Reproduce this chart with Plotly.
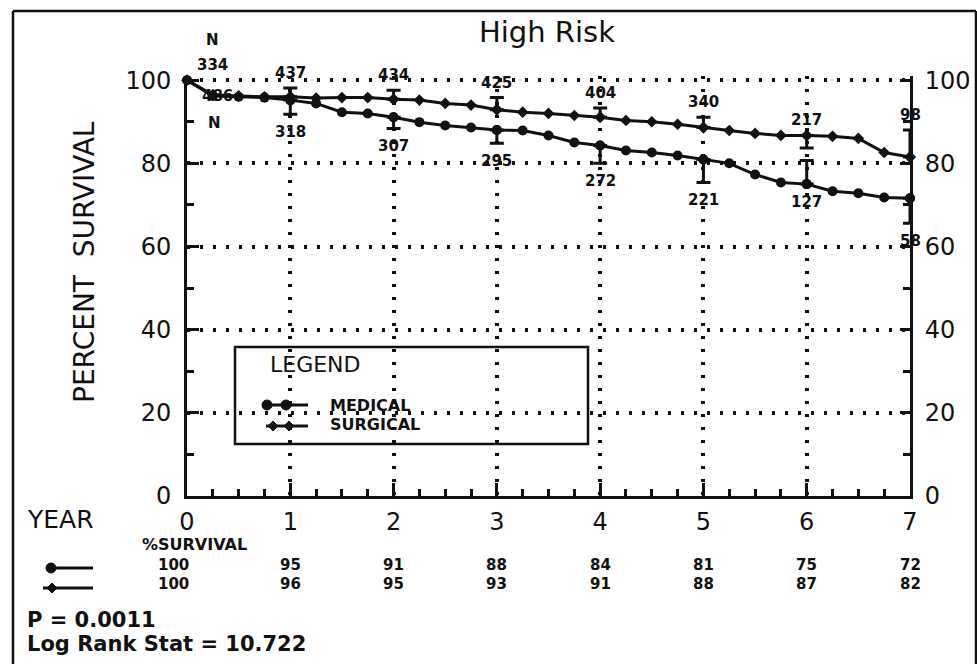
import plotly.graph_objects as go

# ---------------- data ----------------
years_q = [0, 0.25, 0.5, 0.75, 1, 1.25, 1.5, 1.75, 2, 2.25, 2.5, 2.75, 3, 3.25, 3.5,
           3.75, 4, 4.25, 4.5, 4.75, 5, 5.25, 5.5, 5.75, 6, 6.25, 6.5, 6.75, 7]
medical_pct = [100, 96.2, 96.0, 95.8, 95.2, 94.4, 92.3, 92.0, 91.1, 89.9, 89.1, 88.6, 88.0,
               87.9, 86.7, 85.0, 84.3, 83.1, 82.6, 81.9, 80.9, 80.0, 77.3, 75.4, 75.0,
               73.3, 72.8, 71.8, 71.6]
surgical_pct = [100, 96.5, 96.2, 96.0, 96.0, 95.7, 95.8, 95.8, 95.4, 95.2, 94.4, 94.0, 92.9,
                92.3, 92.0, 91.5, 91.1, 90.3, 90.0, 89.4, 88.6, 87.9, 87.2, 86.7, 86.7,
                86.5, 86.0, 82.6, 81.5]

years = [0, 1, 2, 3, 4, 5, 6, 7]
year_labels = ["0", "1", "2", "3", "4", "5", "6", "7"]
medical_year_pct = [100, 95, 91, 88, 84, 81, 75, 72]
surgical_year_pct = [100, 96, 95, 93, 91, 88, 87, 82]
medical_n = ["486", "318", "307", "295", "272", "221", "127", "58"]
surgical_n = ["334", "437", "434", "425", "404", "340", "217", "98"]

ci_years = [1, 2, 3, 4, 5, 6, 7]
surgical_ci_up = [2.1, 2.2, 2.9, 2.2, 2.5, 0, 6.5]
surgical_ci_down = [0, 0, 0, 0, 0, 3.0, 0]
medical_ci_up = [0, 0, 0, 0, 0, 5.7, 0]
medical_ci_down = [3.4, 2.7, 3.2, 4.3, 5.5, 0, 6.0]

p_value = "0.0011"
log_rank = "10.722"

# ---------------- layout helpers ----------------
W, H = 977, 664
L, R, T, B = 187, 910, 76, 496


def px(x):
    return (x - L) / (R - L)


def py(y):
    return (B - y) / (B - T)


FONT = "DejaVu Sans"
BLACK = "#111111"

fig = go.Figure()

# curves
fig.add_trace(go.Scatter(
    x=years_q, y=medical_pct, mode="lines+markers", name="MEDICAL",
    line=dict(color=BLACK, width=3),
    marker=dict(symbol="circle", size=10, color=BLACK),
    cliponaxis=False, showlegend=False))
fig.add_trace(go.Scatter(
    x=years_q, y=surgical_pct, mode="lines+markers", name="SURGICAL",
    line=dict(color=BLACK, width=3),
    marker=dict(symbol="diamond", size=9, color=BLACK),
    cliponaxis=False, showlegend=False))

# confidence bars at yearly points
med_at_year = [medical_pct[years_q.index(y)] for y in ci_years]
surg_at_year = [surgical_pct[years_q.index(y)] for y in ci_years]
fig.add_trace(go.Scatter(
    x=ci_years, y=surg_at_year, mode="markers",
    marker=dict(symbol="diamond", size=9, color=BLACK),
    error_y=dict(type="data", symmetric=False, array=surgical_ci_up,
                 arrayminus=surgical_ci_down, color=BLACK, thickness=3, width=7),
    cliponaxis=False, showlegend=False))
fig.add_trace(go.Scatter(
    x=ci_years, y=med_at_year, mode="markers",
    marker=dict(symbol="circle", size=10, color=BLACK),
    error_y=dict(type="data", symmetric=False, array=medical_ci_up,
                 arrayminus=medical_ci_down, color=BLACK, thickness=3, width=7),
    cliponaxis=False, showlegend=False, yaxis="y2"))

ann = []
NF = dict(family=FONT, size=15, color=BLACK)

# N-at-risk labels
for i, y in enumerate(years):
    sv = surgical_pct[years_q.index(y)]
    mv = medical_pct[years_q.index(y)]
    if y in ci_years:
        k = ci_years.index(y)
        s_top = sv + surgical_ci_up[k]
        m_bot = mv - medical_ci_down[k]
    else:
        s_top, m_bot = sv, mv
    xs = 25 if y == 0 else 0
    ann.append(dict(x=y, y=s_top, xref="x", yref="y", text="<b>%s</b>" % surgical_n[i],
                    showarrow=False, xshift=xs, yshift=15, xanchor="center", yanchor="middle", font=NF))
    ann.append(dict(x=y, y=m_bot, xref="x", yref="y", text="<b>%s</b>" % medical_n[i],
                    showarrow=False, xshift=xs + (5 if y == 0 else 0), yshift=-18 if y else -16,
                    xanchor="center", yanchor="middle", font=NF))
# N headers
ann.append(dict(x=0, y=100, xref="x", yref="y", text="<b>N</b>", showarrow=False, xshift=25, yshift=40,
                xanchor="center", yanchor="middle", font=NF))
ann.append(dict(x=0, y=100, xref="x", yref="y", text="<b>N</b>", showarrow=False, xshift=27, yshift=-43,
                xanchor="center", yanchor="middle", font=NF))


def pann(x, y, text, size, xanchor="center", bold=False, angle=0):
    ann.append(dict(x=px(x), y=py(y), xref="paper", yref="paper",
                    text=("<b>%s</b>" % text) if bold else text, textangle=angle,
                    xanchor=xanchor, yanchor="middle", showarrow=False,
                    font=dict(family=FONT, size=size, color=BLACK)))


# title & axis titles
pann(547, 32, "High Risk", 29)
pann(84, 262, "PERCENT  SURVIVAL", 28, angle=-90)
pann(25, 519, "YEAR", 25, xanchor="left")
pann(194, 544, "%SURVIVAL", 16, bold=True)

# survival table
for i, y in enumerate(years):
    xs = -14 if y == 0 else 0
    ann.append(dict(x=y, y=py(565), xref="x", yref="paper", text="<b>%d</b>" % medical_year_pct[i],
                    showarrow=False, xshift=xs, xanchor="center", yanchor="middle",
                    font=dict(family=FONT, size=15, color=BLACK)))
    ann.append(dict(x=y, y=py(584), xref="x", yref="paper", text="<b>%d</b>" % surgical_year_pct[i],
                    showarrow=False, xshift=xs, xanchor="center", yanchor="middle",
                    font=dict(family=FONT, size=15, color=BLACK)))

pann(25, 620, "P = %s" % p_value, 21, xanchor="left", bold=True)
pann(25, 644, "Log Rank Stat = %s" % log_rank, 21, xanchor="left", bold=True)

# legend box texts
pann(268, 364, "LEGEND", 22, xanchor="left")
pann(328, 405, "MEDICAL", 16, xanchor="left", bold=True)
pann(328, 424, "SURGICAL", 16, xanchor="left", bold=True)

shapes = []
line_style = dict(color=BLACK, width=2.5)
# outer frame
shapes.append(dict(type="line", xref="paper", yref="paper", x0=px(13), x1=px(13), y0=py(11), y1=py(666), line=line_style))
shapes.append(dict(type="line", xref="paper", yref="paper", x0=px(13), x1=px(976), y0=py(11), y1=py(11), line=line_style))
shapes.append(dict(type="line", xref="paper", yref="paper", x0=px(976), x1=px(976), y0=py(11), y1=py(666), line=line_style))
# legend rectangle
shapes.append(dict(type="rect", xref="paper", yref="paper", x0=px(235), x1=px(588), y0=py(347), y1=py(444),
                   line=dict(color=BLACK, width=2.5)))


def sym_line(x0, x1, yy):
    shapes.append(dict(type="line", xref="paper", yref="paper", x0=px(x0), x1=px(x1), y0=py(yy), y1=py(yy),
                       line=dict(color=BLACK, width=3)))


def circ(cx, cy, r):
    shapes.append(dict(type="circle", xref="paper", yref="paper", x0=px(cx - r), x1=px(cx + r),
                       y0=py(cy + r), y1=py(cy - r), fillcolor=BLACK, line=dict(color=BLACK, width=1)))


def diam(cx, cy, r):
    path = "M %f %f L %f %f L %f %f L %f %f Z" % (px(cx - r), py(cy), px(cx), py(cy - r),
                                                    px(cx + r), py(cy), px(cx), py(cy + r))
    shapes.append(dict(type="path", xref="paper", yref="paper", path=path, fillcolor=BLACK,
                       line=dict(color=BLACK, width=1)))


# legend symbols
sym_line(262, 308, 405)
circ(267, 405, 5)
circ(286, 405, 5)
sym_line(266, 308, 426)
diam(273, 426, 5)
diam(289, 426, 5)
# table symbols
sym_line(46, 93, 568)
circ(51, 568, 5)
sym_line(43, 93, 588)
diam(52, 588, 5)

axis_common = dict(showline=True, linecolor=BLACK, linewidth=3, mirror=False, automargin=False,
                   tickcolor=BLACK, tickwidth=2.5, ticks="inside", zeroline=False,
                   tickfont=dict(family=FONT, size=24, color=BLACK))

fig.update_layout(
    width=W, height=H, autosize=False,
    margin=dict(l=L, r=W - R, t=T, b=H - B, pad=0, autoexpand=False),
    paper_bgcolor="white", plot_bgcolor="white",
    showlegend=False,
    xaxis=dict(range=[0, 7], tickmode="array", tickvals=years, ticktext=year_labels,
               ticklen=13, showgrid=True, gridcolor=BLACK, gridwidth=3.5, griddash="3px,10px",
               minor=dict(dtick=0.25, ticks="inside", ticklen=7, tickwidth=2.5, tickcolor=BLACK, showgrid=False),
               ticklabelstandoff=2, **axis_common),
    yaxis=dict(range=[0, 101], tickvals=[0, 20, 40, 60, 80, 100], ticklen=12,
               showgrid=True, gridcolor=BLACK, gridwidth=3.5, griddash="3px,10px",
               minor=dict(dtick=10, ticks="inside", ticklen=7, tickwidth=2.5, tickcolor=BLACK, showgrid=False),
               ticklabelstandoff=8, **axis_common),
    yaxis2=dict(range=[0, 101], overlaying="y", side="right", tickvals=[0, 20, 40, 60, 80, 100],
                ticklen=10, showgrid=False,
                minor=dict(dtick=10, ticks="inside", ticklen=7, tickwidth=2.5, tickcolor=BLACK, showgrid=False),
                ticklabelstandoff=7, **axis_common),
    annotations=ann,
    shapes=shapes,
)

fig.write_html("out.html")
